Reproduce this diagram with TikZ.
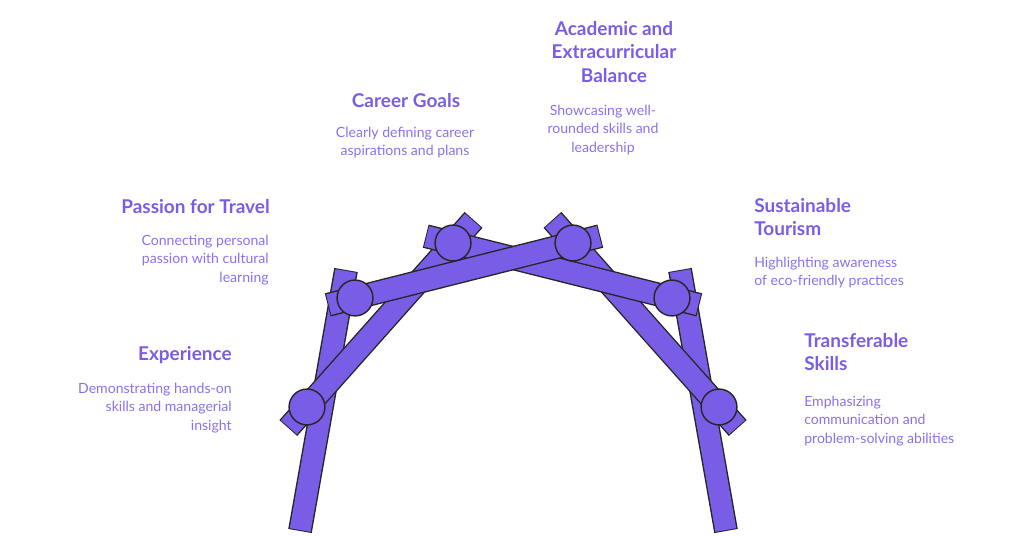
\documentclass[tikz,border=0pt]{standalone}
\usepackage{fontspec}
\setmainfont{Lato}
\usetikzlibrary{calc}
\definecolor{archfill}{HTML}{7A5DE6}
\definecolor{headcol}{HTML}{7B5CE6}
\definecolor{bodycol}{HTML}{8C70F0}
\tikzset{
  head/.style={text=headcol, font=\bfseries\fontsize{13.5}{16.5}\selectfont, inner sep=0pt},
  body/.style={text=bodycol, font=\fontsize{10}{13}\selectfont, inner sep=0pt},
  joint/.style={circle, draw=black!85, line width=1pt, fill=archfill, minimum size=25.5pt, inner sep=0pt}
}
% bar between two points, extended at both ends
\newcommand{\archbar}[4]{%
  \draw[line width=17pt, black!85] ($(#1)!-#3!(#2)$) -- ($(#2)!-#4!(#1)$);
  \draw[line width=15pt, archfill] ($(#1)!-#3+0.7pt!(#2)$) -- ($(#2)!-#4+0.7pt!(#1)$);}
\begin{document}
\begin{tikzpicture}[x=0.025cm, y=-0.025cm]
\useasboundingbox (0,0) rectangle (1024,536);
%joints
\coordinate (j1) at (307,407);
\coordinate (j2) at (355,298);
\coordinate (j3) at (453,243);
\coordinate (j4) at (573,243);
\coordinate (j5) at (672,298);
\coordinate (j6) at (719,407);
\coordinate (l1) at (300,531);
\coordinate (l2) at (346,270);
\coordinate (r1) at (726,531);
\coordinate (r2) at (680,270);
%bars
\archbar{l1}{l2}{0pt}{0pt}
\archbar{r1}{r2}{0pt}{0pt}
\archbar{j1}{j3}{20pt}{22pt}
\archbar{j6}{j4}{20pt}{22pt}
\archbar{j5}{j3}{20pt}{20pt}
\archbar{j2}{j4}{20pt}{20pt}
\foreach \j in {j1,j2,j3,j4,j5,j6}
  \node[joint] (c\j) at (\j) {};
%labels
\node[head, anchor=east] (h1) at (232,355) {Experience};
\node[body, anchor=north east, align=right] (b1) at (232,383) {Demonstrating hands-on\\skills and managerial\\insight};
\node[head, anchor=east] (h2) at (270,207) {Passion for Travel};
\node[body, anchor=north east, align=right] (b2) at (269,235) {Connecting personal\\passion with cultural\\learning};
\node[head] (h3) at (406,101) {Career Goals};
\node[body, anchor=north, align=center] (b3) at (405,127) {Clearly defining career\\aspirations and plans};
\node[head, align=center] (h4) at (614,52) {Academic and\\Extracurricular\\Balance};
\node[body, anchor=north, align=center] (b4) at (603,105) {Showcasing well-\\rounded skills and\\leadership};
\node[head, anchor=north west, align=left] (h5) at (754,198) {Sustainable\\Tourism};
\node[body, anchor=north west, align=left] (b5) at (754,257) {Highlighting awareness\\of eco-friendly practices};
\node[head, anchor=north west, align=left] (h6) at (804,333) {Transferable\\Skills};
\node[body, anchor=north west, align=left] (b6) at (804,396) {Emphasizing\\communication and\\problem-solving abilities};
\end{tikzpicture}
\end{document}
